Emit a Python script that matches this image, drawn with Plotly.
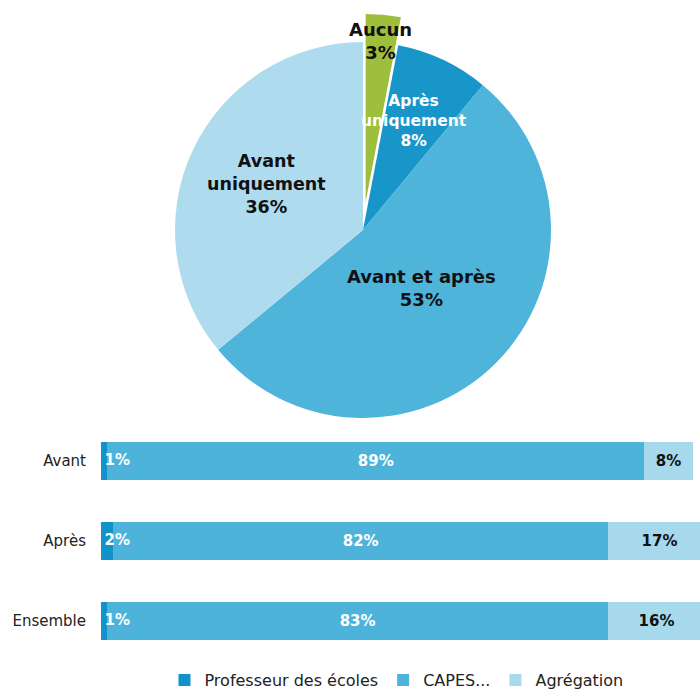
import math
import plotly.graph_objects as go

# --- Pie: timing of the competitive exam ---
pie_labels = ["Aucun", "Après uniquement", "Avant et après", "Avant uniquement"]
pie_label_lines = [["Aucun"], ["Après", "uniquement"], ["Avant et après"], ["Avant", "uniquement"]]
pie_values = [3, 8, 53, 36]
pie_colors = ["#9ebf3c", "#1996c9", "#4eb4da", "#aedbee"]
pie_text_colors = ["#111111", "#ffffff", "#111111", "#111111"]
pie_text_sizes = [18, 15.5, 18, 17.5]
pie_label_radius = [1.01, 0.64, 0.44, 0.57]   # label distance as a fraction of the radius
pie_pull = [0.15, 0, 0, 0]

# --- Stacked bars: exam type ---
bar_categories = ["Avant", "Après", "Ensemble"]
series_names = ["Professeur des écoles", "CAPES...", "Agrégation"]
series_values = {
    "Professeur des écoles": [1, 2, 1],
    "CAPES...": [89, 82, 83],
    "Agrégation": [8, 17, 16],
}
series_colors = ["#1192c8", "#4eb3da", "#a6d9ec"]
series_text_colors = ["#ffffff", "#ffffff", "#111111"]

W, H = 700, 691
FONT = "DejaVu Sans"
margin_l, margin_r, margin_t, margin_b = 101, 0, 0, 0
plot_w = W - margin_l - margin_r
plot_h = H - margin_t - margin_b

# pie placement (pixels)
pie_cx, pie_cy, pie_r = 363, 230, 188
half = pie_r * (1 + max(pie_pull))
dom_x = [(pie_cx - half - margin_l) / plot_w, (pie_cx + half - margin_l) / plot_w]
dom_y = [1 - (pie_cy + half) / plot_h, 1 - (pie_cy - half) / plot_h]

fig = go.Figure()

fig.add_trace(go.Pie(
    labels=pie_labels,
    values=pie_values,
    sort=False,
    direction="clockwise",
    rotation=0,
    pull=pie_pull,
    marker=dict(colors=pie_colors, line=dict(width=0)),
    textinfo="none",
    hoverinfo="label+percent",
    showlegend=False,
    domain=dict(x=dom_x, y=dom_y),
))

# pie labels placed at each slice's mid-angle
total = sum(pie_values)
cum = 0
for lines, v, col, fs, k in zip(pie_label_lines, pie_values, pie_text_colors,
                                pie_text_sizes, pie_label_radius):
    mid = (cum + v / 2) / total * 2 * math.pi
    cum += v
    px = pie_cx + k * pie_r * math.sin(mid)
    py = pie_cy - k * pie_r * math.cos(mid)
    txt = "<br>".join(f"<b>{w}</b>" for w in lines + [f"{v}%"])
    fig.add_annotation(
        x=(px - margin_l) / plot_w, y=1 - (py - margin_t) / plot_h,
        xref="paper", yref="paper",
        text=txt, showarrow=False, xanchor="center", yanchor="middle",
        font=dict(family=FONT, size=fs, color=col), align="center",
    )

for i, (name, color, tcol) in enumerate(zip(series_names, series_colors, series_text_colors)):
    first = i == 0
    fig.add_trace(go.Bar(
        y=bar_categories,
        x=series_values[name],
        name=name,
        orientation="h",
        marker=dict(color=color, line=dict(width=0)),
        texttemplate=None if first else "<b>%{x}%</b>",
        textposition="none" if first else "inside",
        insidetextanchor="middle",
        textangle=0,
        textfont=dict(family=FONT, size=15, color=tcol),
    ))

# labels of the thin first segment sit on top of the whole stack
fig.add_trace(go.Scatter(
    y=bar_categories,
    x=[0] * len(bar_categories),
    mode="markers+text",
    marker=dict(size=4, color="rgba(0,0,0,0)"),
    text=[f"<b>{v}%</b>" for v in series_values[series_names[0]]],
    textposition="middle right",
    textfont=dict(family=FONT, size=15, color=series_text_colors[0]),
    showlegend=False,
    hoverinfo="skip",
))

# bars occupy the band y = 421..661 px
bar_top, bar_bot = 421, 661
fig.update_layout(
    width=W, height=H,
    margin=dict(l=margin_l, r=margin_r, t=margin_t, b=margin_b, autoexpand=False),
    paper_bgcolor="#ffffff", plot_bgcolor="#ffffff",
    barmode="stack", bargap=0.525,
    uniformtext=dict(mode="show", minsize=15),
    font=dict(family=FONT, size=15, color="#222222"),
    xaxis=dict(range=[0, 99.2], visible=False, fixedrange=True),
    yaxis=dict(
        domain=[1 - bar_bot / H, 1 - bar_top / H],
        categoryorder="array", categoryarray=bar_categories[::-1],
        showgrid=False, zeroline=False, showline=False, ticks="",
        ticklabelstandoff=14,
        tickfont=dict(family=FONT, size=15, color="#222222"),
    ),
    legend=dict(
        orientation="h", xref="container", yref="container",
        x=0.235, y=11 / H, xanchor="left", yanchor="middle",
        font=dict(family=FONT, size=16, color="#222222"),
        itemwidth=30, traceorder="normal",
    ),
)

fig.write_html("out.html")
